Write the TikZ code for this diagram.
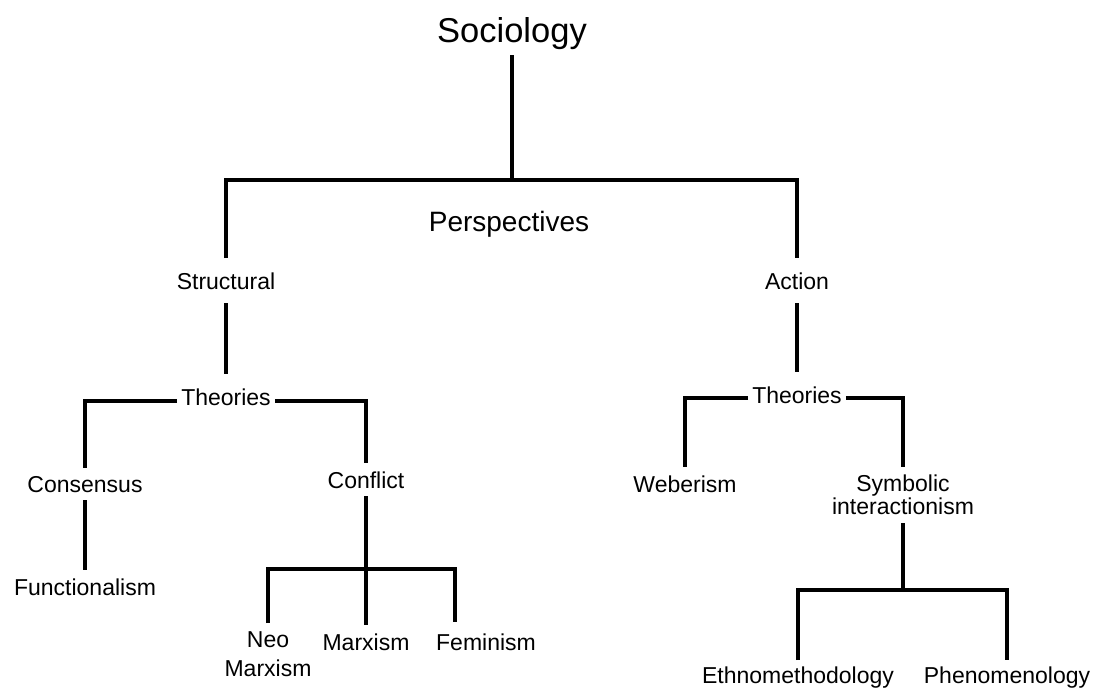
\documentclass[tikz,border=0pt]{standalone}
\usepackage{fontspec}
\setmainfont{Liberation Sans}
\begin{document}
\begin{tikzpicture}[x=1pt,y=-1pt,
    txt/.style={anchor=base, inner xsep=4pt, inner ysep=8pt, align=center, font=\fontsize{23}{23}\selectfont},
    branch/.style={line width=4pt}]
  \useasboundingbox (0,0) rectangle (1101,691);

  % labels
  \node[txt, font=\fontsize{34.5}{36}\selectfont, inner ysep=6pt] (soc) at (512,42) {Sociology};
  \node[txt, font=\fontsize{28}{30}\selectfont] (persp) at (509,231) {Perspectives};
  \node[txt, inner ysep=14pt] (str) at (226,289) {Structural};
  \node[txt, inner ysep=14pt] (act) at (797,289) {Action};
  \node[txt, inner ysep=14pt] (thl) at (226,405) {Theories};
  \node[txt, inner ysep=14pt] (thr) at (797,403) {Theories};
  \node[txt] (cons) at (85,492) {Consensus};
  \node[txt] (conf) at (366,488) {Conflict};
  \node[txt] (func) at (85,595) {Functionalism};
  \node[txt, anchor=north, font=\fontsize{23}{29}\selectfont] (neo) at (268,623) {Neo\\Marxism};
  \node[txt] (marx) at (366,650) {Marxism};
  \node[txt] (fem) at (486,650) {Feminism};
  \node[txt] (web) at (685,492) {Weberism};
  \node[txt, anchor=north] (symb) at (903,467) {Symbolic\\interactionism};
  \node[txt, inner ysep=6pt] (eth) at (798,683) {Ethnomethodology};
  \node[txt, inner ysep=6pt] (phen) at (1007,683) {Phenomenology};

  % junctions
  \coordinate (tj) at (512,180);
  \coordinate (pl) at (226,180);
  \coordinate (pr) at (797,180);
  \coordinate (cl) at (268,569);
  \coordinate (cr) at (455,569);
  \coordinate (fe) at (455,622);
  \coordinate (sj) at (903,590);
  \coordinate (el) at (798,590);
  \coordinate (er) at (1007,590);

  % branches
  \draw[branch] (soc) -- (tj);
  \draw[branch] (str) -- (pl) -- (pr) -- (act);
  \draw[branch] (str) -- (thl);
  \draw[branch] (act) -- (thr);
  \draw[branch] ([yshift=-4pt]thl.west) -| (cons);
  \draw[branch] ([yshift=-4pt]thl.east) -| (conf);
  \draw[branch] (cons) -- (func);
  \draw[branch] (conf) -- (marx);
  \draw[branch] (neo) -- (cl) -- (cr) -- (fe);
  \draw[branch] ([yshift=-3pt]thr.west) -| (web);
  \draw[branch] ([yshift=-3pt]thr.east) -| (symb);
  \draw[branch] (symb) -- (sj);
  \draw[branch] (eth) -- (el) -- (er) -- (phen);
\end{tikzpicture}
\end{document}
